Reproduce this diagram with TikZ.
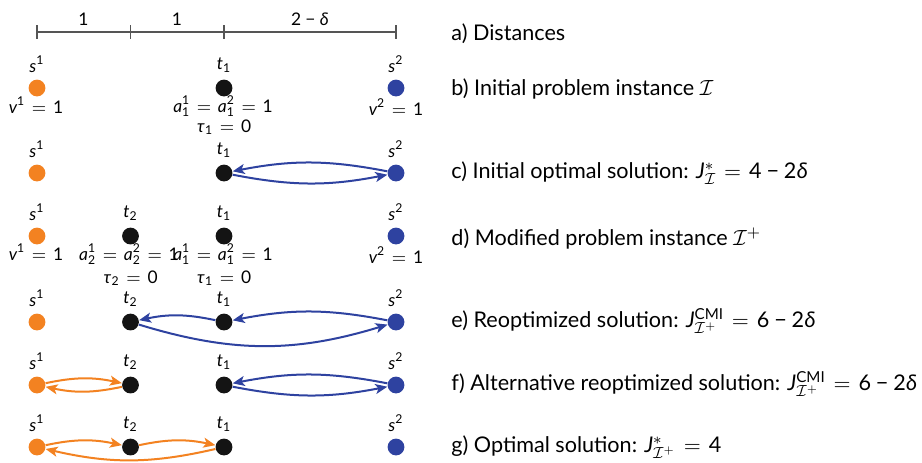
\documentclass[tikz,border=0pt]{standalone}
\usepackage{mathspec}
\setmainfont{Lato}
\setmathsfont(Digits,Latin,Greek)[Lowercase=Italic]{Lato}
\setmathrm{Lato}
\usetikzlibrary{arrows.meta}

\definecolor{tourorange}{RGB}{243,130,33}
\definecolor{tourblue}{RGB}{46,66,160}
\definecolor{tourblack}{RGB}{20,20,20}
\definecolor{rulergray}{RGB}{85,85,85}

% Lato's own minus sign, a bit more air round relations
\newcommand{\mminus}{\mathbin{\mbox{\char"2212}}}
\newcommand{\labelsize}{\fontsize{8.7}{10}\selectfont}
\thickmuskip=6.5mu plus 2mu

\tikzset{
  every label/.style={font=\labelsize},
  vtx/.style={circle, inner sep=0pt, minimum size=8.4pt, label distance=-0.6pt},
  src1/.style={vtx, fill=tourorange},
  src2/.style={vtx, fill=tourblue},
  tgt/.style={vtx, fill=tourblack},
  note/.style={anchor=base, inner sep=0pt, font=\labelsize},
  route/.style={line width=1pt, -{Stealth[length=6pt, width=5pt, inset=1.5pt]}},
  oroute/.style={route, draw=tourorange},
  broute/.style={route, draw=tourblue},
  caption/.style={anchor=base west, inner sep=0pt},
  tick/.style={draw=rulergray, line width=0.6pt},
}

\begin{document}
\begin{tikzpicture}[x=0.5pt, y=-0.5pt, font=\fontsize{10.8}{12}\selectfont]
  \useasboundingbox (0,0) rectangle (922,462);

  % a) ruler with the distances
  \coordinate (r0) at (37,32);
  \coordinate (r1) at (130.5,32);
  \coordinate (r2) at (224,32);
  \coordinate (r3) at (396,32);
  \draw[tick] (r0) -- (r3);
  \foreach \r in {r0,r1,r2,r3}
    \draw[tick] ([yshift=3.5pt]\r) -- ([yshift=-3.5pt]\r);
  \node[note] (d01) at (83.5,25) {$1$};
  \node[note] (d12) at (177,25) {$1$};
  \node[note] (d23) at (310,25) {$2\mminus\delta$};
  \node[caption] (capa) at (451,40) {a) Distances};

  % b) initial instance
  \node[src1, label=above:{$s^1$}] (s1b) at (37,88) {};
  \node[tgt, label=above:{$t_1$}] (t1b) at (224,88) {};
  \node[src2, label=above:{$s^2$}] (s2b) at (396,88) {};
  \node[note] (v1b) at (36,113) {$v^1=1$};
  \node[note] (a1b) at (223,112) {$a_1^1=a_1^2=1$};
  \node[note] (tau1b) at (224,132) {$\tau_1=0$};
  \node[note] (v2b) at (396,115) {$v^2=1$};
  \node[caption] (capb) at (451,95) {b) Initial problem instance $\mathcal{I}$};

  % c) initial optimum
  \node[src1, label=above:{$s^1$}] (s1c) at (37,173) {};
  \node[tgt, label=above:{$t_1$}] (t1c) at (224,173) {};
  \node[src2, label=above:{$s^2$}] (s2c) at (396,173) {};
  \path (s2c) edge[broute, bend right=11] (t1c);
  \path (t1c) edge[broute, bend right=11] (s2c);
  \node[caption] (capc) at (451,178) {c) Initial optimal solution: $J^*_{\mathcal{I}}=4\mminus2\delta$};

  % d) modified instance with t_2
  \node[src1, label=above:{$s^1$}] (s1d) at (37,236) {};
  \node[tgt, label=above:{$t_2$}] (t2d) at (130.5,236) {};
  \node[tgt, label=above:{$t_1$}] (t1d) at (224,236) {};
  \node[src2, label=above:{$s^2$}] (s2d) at (396,236) {};
  \node[note] (v1d) at (36,260) {$v^1=1$};
  \node[note] (a2d) at (129,260) {$a_2^1=a_2^2=1$};
  \node[note] (tau2d) at (130.5,283) {$\tau_2=0$};
  \node[note] (a1d) at (223,260) {$a_1^1=a_1^2=1$};
  \node[note] (tau1d) at (224,283) {$\tau_1=0$};
  \node[note] (v2d) at (396,263) {$v^2=1$};
  \node[caption] (capd) at (451,245) {d) Modified problem instance $\mathcal{I}^+$};

  % e) reoptimized
  \node[src1, label=above:{$s^1$}] (s1e) at (37,322) {};
  \node[tgt, label=above:{$t_2$}] (t2e) at (130.5,322) {};
  \node[tgt, label=above:{$t_1$}] (t1e) at (224,322) {};
  \node[src2, label=above:{$s^2$}] (s2e) at (396,322) {};
  \path (s2e) edge[broute, bend right=11] (t1e);
  \path (t1e) edge[broute, bend right=12] (t2e);
  \path (t2e) edge[broute, bend right=17] (s2e);
  \node[caption] (cape) at (451,327) {e) Reoptimized solution: $J^{\mathrm{CMI}}_{\mathcal{I}^+}=6\mminus2\delta$};

  % f) alternative reoptimized
  \node[src1, label=above:{$s^1$}] (s1f) at (37,385) {};
  \node[tgt, label=above:{$t_2$}] (t2f) at (130.5,385) {};
  \node[tgt, label=above:{$t_1$}] (t1f) at (224,385) {};
  \node[src2, label=above:{$s^2$}] (s2f) at (396,385) {};
  \path (s1f) edge[oroute, bend left=12] (t2f);
  \path (t2f) edge[oroute, bend left=12] (s1f);
  \path (s2f) edge[broute, bend right=11] (t1f);
  \path (t1f) edge[broute, bend right=11] (s2f);
  \node[caption] (capf) at (451,390) {f) Alternative reoptimized solution: $J^{\mathrm{CMI}}_{\mathcal{I}^+}=6\mminus2\delta$};

  % g) optimum of the modified instance
  \node[src1, label=above:{$s^1$}] (s1g) at (37,447) {};
  \node[tgt, label=above:{$t_2$}] (t2g) at (130.5,447) {};
  \node[tgt, label=above:{$t_1$}] (t1g) at (224,447) {};
  \node[src2, label=above:{$s^2$}] (s2g) at (396,447) {};
  \path (s1g) edge[oroute, bend left=12] (t2g);
  \path (t2g) edge[oroute, bend left=12] (t1g);
  \path (t1g) edge[oroute, bend left=13] (s1g);
  \node[caption] (capg) at (451,452) {g) Optimal solution: $J^*_{\mathcal{I}^+}=4$};
\end{tikzpicture}
\end{document}
